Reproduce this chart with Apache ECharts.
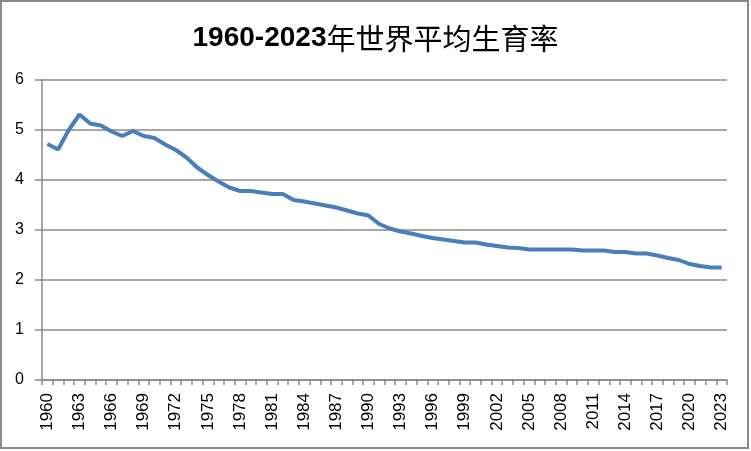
<!DOCTYPE html>
<html>
<head>
<meta charset="utf-8">
<script src="https://cdn.jsdelivr.net/npm/echarts@6/dist/echarts.min.js"></script>
<style>
html,body{margin:0;padding:0;background:#fff;}
#chart{width:751px;height:451px;}
</style>
</head>
<body>
<div id="chart"></div>
<script>
var titleYears = '1960-2023';
var titleText = '年世界平均生育率';
var years = [];
for (var y = 1960; y <= 2023; y++) years.push(String(y));
var fertility = [
  4.72, 4.61, 5.00, 5.31, 5.13, 5.09, 4.97, 4.88, 4.98, 4.88,
  4.84, 4.71, 4.60, 4.45, 4.25, 4.10, 3.97, 3.85, 3.78, 3.78,
  3.75, 3.72, 3.72, 3.60, 3.57, 3.53, 3.49, 3.45, 3.39, 3.33,
  3.29, 3.12, 3.03, 2.97, 2.93, 2.88, 2.84, 2.81, 2.78, 2.75,
  2.75, 2.71, 2.68, 2.65, 2.64, 2.61, 2.61, 2.61, 2.61, 2.61,
  2.59, 2.59, 2.59, 2.56, 2.56, 2.53, 2.53, 2.49, 2.44, 2.40,
  2.32, 2.28, 2.25, 2.25
];

var chart = echarts.init(document.getElementById('chart'));
chart.setOption({
  backgroundColor: '#fff',
  animation: false,
  title: {
    text: '{a|' + titleYears + '}{b|' + titleText + '}',
    left: 'center',
    top: 19,
    textStyle: {
      rich: {
        a: { fontFamily: 'Liberation Sans', fontWeight: 'bold', fontSize: 28, color: '#000' },
        b: { fontFamily: 'Noto Sans CJK SC', fontWeight: 'normal', fontSize: 29, color: '#000' }
      }
    }
  },
  graphic: [{
    type: 'rect',
    shape: { x: 1, y: 1, width: 747, height: 447 },
    style: { fill: 'none', stroke: '#8a8a8a', lineWidth: 2 },
    silent: true
  }],
  grid: { left: 42, right: 24, top: 80, bottom: 71 },
  xAxis: {
    type: 'category',
    data: years,
    boundaryGap: true,
    axisLine: { lineStyle: { color: '#8a8a8a', width: 1.5 } },
    axisTick: { show: true, interval: 0, length: 5, lineStyle: { color: '#8a8a8a', width: 1.5 } },
    axisLabel: {
      interval: 2,
      rotate: 90,
      margin: 13,
      fontFamily: 'Liberation Sans',
      fontSize: 17,
      color: '#000'
    },
    splitLine: { show: false }
  },
  yAxis: {
    type: 'value',
    min: 0,
    max: 6,
    interval: 1,
    axisLine: { show: true, lineStyle: { color: '#8a8a8a', width: 1.5 } },
    axisTick: { show: true, length: 7, lineStyle: { color: '#8a8a8a', width: 1.5 } },
    axisLabel: { margin: 18, fontFamily: 'Liberation Sans', fontSize: 16, color: '#000' },
    splitLine: { show: true, lineStyle: { color: '#8a8a8a', width: 1.5 } }
  },
  series: [{
    type: 'line',
    data: fertility,
    showSymbol: false,
    smooth: false,
    lineStyle: { color: '#4a7ebb', width: 4 },
    itemStyle: { color: '#4a7ebb' }
  }]
});
</script>
</body>
</html>
